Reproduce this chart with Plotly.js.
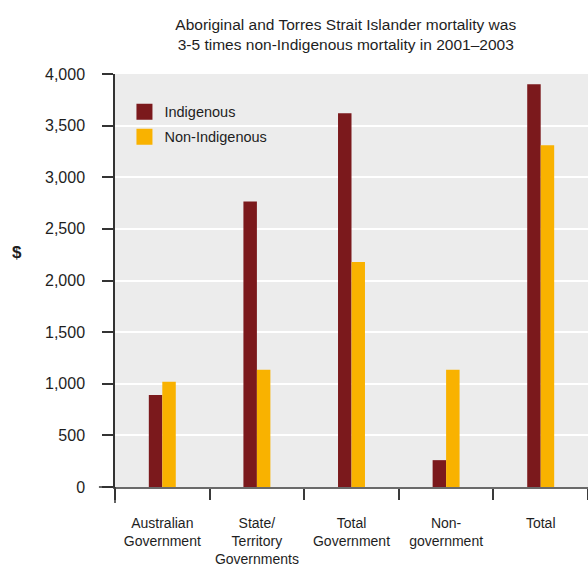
<!DOCTYPE html>
<html>
<head>
<meta charset="utf-8">
<script src="https://cdn.plot.ly/plotly-3.0.1.min.js"></script>
<style>
  html, body { margin: 0; padding: 0; background: #fff; }
  #chart { width: 588px; height: 569px; }
</style>
</head>
<body>
<div id="chart"></div>
<script>
// Spending per person, by source of funds
const categories = [
  'Australian<br>Government',
  'State/<br>Territory<br>Governments',
  'Total<br>Government',
  'Non-<br>government',
  'Total'
];
const indigenous = [890, 2765, 3620, 260, 3900];
const nonIndigenous = [1020, 1135, 2180, 1135, 3310];
const yTickVals = [0, 500, 1000, 1500, 2000, 2500, 3000, 3500, 4000];

const FONT = '"Liberation Sans", Arial, sans-serif';
const INK = '#1e1e1e';

const traces = [
  {
    type: 'bar',
    name: 'Indigenous',
    legendgroup: 'ind',
    x: categories,
    y: indigenous,
    marker: { color: '#7b191c', line: { width: 0 } },
    hoverinfo: 'x+y+name'
  },
  {
    type: 'bar',
    name: 'Non-Indigenous',
    legendgroup: 'non',
    x: categories,
    y: nonIndigenous,
    marker: { color: '#f9b200', line: { width: 0 } },
    hoverinfo: 'x+y+name'
  }
];

const layout = {
  width: 588,
  height: 569,
  margin: { l: 115, r: 0, t: 74, b: 82 },
  paper_bgcolor: '#ffffff',
  plot_bgcolor: '#ececec',
  font: { family: FONT, color: INK, size: 15 },
  barmode: 'group',
  bargap: 0.715,
  bargroupgap: 0,
  showlegend: true,
  title: {
    text: 'Aboriginal and Torres Strait Islander mortality was<br>3-5 times non-Indigenous mortality in 2001\u20132003',
    font: { family: FONT, size: 15.5, color: INK },
    x: 0.588,
    xanchor: 'center',
    xref: 'container',
    yref: 'container',
    y: 0.9475,
    yanchor: 'middle'
  },
  legend: {
    x: 0.02,
    y: 0.947,
    xanchor: 'left',
    yanchor: 'top',
    bgcolor: 'rgba(0,0,0,0)',
    font: { family: FONT, size: 14.5, color: INK },
    traceorder: 'grouped',
    tracegroupgap: 3,
    itemclick: false,
    itemdoubleclick: false
  },
  xaxis: {
    type: 'category',
    tickson: 'boundaries',
    tickangle: 0,
    ticks: 'outside',
    ticklen: 11,
    tickwidth: 1.5,
    tickcolor: '#3a3a3a',
    showline: true,
    linecolor: '#6a6a6a',
    linewidth: 2,
    showgrid: false,
    zeroline: false,
    range: [-0.5, 4.5],
    ticklabelstandoff: 22,
    tickfont: { family: FONT, size: 14, color: INK },
    fixedrange: true
  },
  yaxis: {
    range: [0, 4000],
    tickmode: 'array',
    tickvals: yTickVals,
    tickformat: ',d',
    ticks: 'outside',
    ticklen: 11,
    tickwidth: 1.5,
    tickcolor: '#333333',
    showline: true,
    linecolor: '#333333',
    linewidth: 1.5,
    showgrid: true,
    gridcolor: '#ffffff',
    gridwidth: 1.5,
    zeroline: false,
    ticklabelstandoff: 14,
    tickfont: { family: FONT, size: 16, color: INK },
    fixedrange: true
  },
  annotations: [
    {
      text: '<b>$</b>',
      xref: 'paper', yref: 'paper',
      x: -0.207, y: 0.567,
      xanchor: 'center', yanchor: 'middle',
      showarrow: false,
      font: { family: FONT, size: 17, color: INK }
    }
  ],
  shapes: [
    // y-axis line continues below the baseline
    {
      type: 'line', xref: 'paper', yref: 'paper',
      x0: 0, x1: 0, y0: 0, y1: -0.039,
      line: { color: '#333333', width: 1.5 }
    },
    // longer tick at zero
    {
      type: 'line', xref: 'paper', yref: 'paper',
      x0: -0.034, x1: 0, y0: 0, y1: 0,
      line: { color: '#333333', width: 1.5 }
    }
  ]
};

Plotly.newPlot('chart', traces, layout, { displayModeBar: false }).then(function (gd) {
  // slightly larger legend swatches
  gd.querySelectorAll('.legendpoints path').forEach(function (p) {
    p.setAttribute('d', 'M8,8H-8V-8H8Z');
  });
});
</script>
</body>
</html>
